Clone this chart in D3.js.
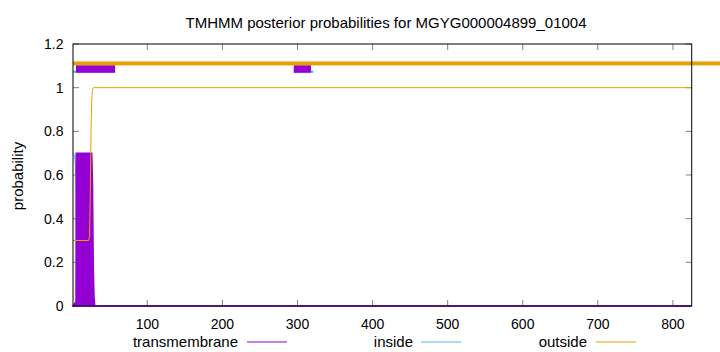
<!DOCTYPE html>
<html>
<head>
<meta charset="utf-8">
<script src="https://cdn.jsdelivr.net/npm/d3@7"></script>
<style>
  body { margin: 0; background: #fff; }
  svg text { font-family: "Liberation Sans", Arial, sans-serif; }
</style>
</head>
<body>
<svg id="chart" width="720" height="352"></svg>
<script>
// posterior curves (residue, probability)
const tmPos   = [1, 5, 5.3, 26, 27, 28, 29, 30, 825];
const tmProb  = [0, 0.02, 0.70, 0.70, 0.55, 0.18, 0.04, 0, 0];
const inPos   = [1, 3, 4, 5, 6, 7, 825];
const inProb  = [0.70, 0.69, 0.66, 0.55, 0.10, 0, 0];
const outPos  = [1, 22, 23, 24, 25, 26, 27, 28, 825];
const outProb = [0.30, 0.30, 0.32, 0.50, 0.80, 0.95, 0.99, 1.0, 1.0];

// predicted topology bars along the top
const outBars = [[1, 865]];
const tmBars  = [[5, 57], [295, 318]];
const inBars  = [[1, 5], [318, 321]];

const xTicks = [100, 200, 300, 400, 500, 600, 700, 800];
const yTicks = [0, 0.2, 0.4, 0.6, 0.8, 1, 1.2];

const colTM = "#9400d3", colIn = "#56b4e9", colOut = "#e69f00";

const svg = d3.select("#chart");
const pLeft = 73, pRight = 691.7, pTop = 44, pBottom = 306;

const x = d3.scaleLinear().domain([1, 825]).range([pLeft, pRight]);
const y = d3.scaleLinear().domain([0, 1.2]).range([pBottom, pTop]);

const zip = (a, b) => a.map((v, i) => [v, b[i]]);

// tick marks (mirrored on all sides, pointing inward)
const g = svg.append("g");
xTicks.forEach(t => {
  g.append("line").attr("x1", x(t)).attr("x2", x(t)).attr("y1", pBottom).attr("y2", pBottom - 6)
    .attr("stroke", "#000").attr("stroke-width", 0.5);
  g.append("line").attr("x1", x(t)).attr("x2", x(t)).attr("y1", pTop).attr("y2", pTop + 6)
    .attr("stroke", "#000").attr("stroke-width", 0.5);
  g.append("text").attr("x", x(t)).attr("y", pBottom + 22.5).attr("text-anchor", "middle")
    .attr("font-size", 14).text(t);
});
yTicks.forEach(t => {
  g.append("line").attr("x1", pLeft).attr("x2", pLeft + 6).attr("y1", y(t)).attr("y2", y(t))
    .attr("stroke", "#000").attr("stroke-width", 0.5);
  g.append("line").attr("x1", pRight).attr("x2", pRight - 6).attr("y1", y(t)).attr("y2", y(t))
    .attr("stroke", "#000").attr("stroke-width", 0.5);
  g.append("text").attr("x", pLeft - 9.5).attr("y", y(t) + 5).attr("text-anchor", "end")
    .attr("font-size", 14).text(t);
});

const line = d3.line().x(d => x(d[0])).y(d => y(d[1]));
svg.append("path").datum(zip(inPos, inProb)).attr("d", line)
  .attr("fill", "none").attr("stroke", colIn).attr("stroke-width", 1);

// transmembrane filled
const area = d3.area().x(d => x(d[0])).y0(y(0)).y1(d => y(d[1]));
svg.append("path").datum(zip(tmPos, tmProb)).attr("d", area)
  .attr("fill", colTM).attr("stroke", colTM).attr("stroke-width", 1.5);

svg.append("path").datum(zip(outPos, outProb)).attr("d", line)
  .attr("fill", "none").attr("stroke", colOut).attr("stroke-width", 1);

// topology bars
svg.selectAll(".tm").data(tmBars).join("rect")
  .attr("x", d => x(d[0])).attr("width", d => x(d[1]) - x(d[0]))
  .attr("y", y(1.103)).attr("height", y(1.068) - y(1.103)).attr("fill", colTM);
svg.selectAll(".inb").data(inBars).join("rect")
  .attr("x", d => x(d[0])).attr("width", d => x(d[1]) - x(d[0]))
  .attr("y", y(1.078)).attr("height", y(1.068) - y(1.078)).attr("fill", colIn);
svg.selectAll(".outb").data(outBars).join("rect")
  .attr("x", d => x(d[0])).attr("width", d => x(d[1]) - x(d[0]))
  .attr("y", y(1.12)).attr("height", y(1.102) - y(1.12)).attr("fill", colOut);

// frame
svg.append("rect").attr("x", pLeft).attr("y", pTop).attr("width", pRight - pLeft).attr("height", pBottom - pTop)
  .attr("fill", "none").attr("stroke", "#000").attr("stroke-width", 1);

// title and axis label
svg.append("text").attr("x", 386).attr("y", 28).attr("text-anchor", "middle").attr("font-size", 15)
  .text("TMHMM posterior probabilities for MGYG000004899_01004");
svg.append("text").attr("transform", "translate(23,176) rotate(-90)").attr("text-anchor", "middle")
  .attr("font-size", 15).text("probability");

// legend
const legend = [["transmembrane", colTM, 238, 247], ["inside", colIn, 413, 421], ["outside", colOut, 587, 596]];
legend.forEach(([name, c, tx, lx]) => {
  svg.append("text").attr("x", tx).attr("y", 347).attr("text-anchor", "end").attr("font-size", 15).text(name);
  svg.append("line").attr("x1", lx).attr("x2", lx + 40).attr("y1", 342).attr("y2", 342)
    .attr("stroke", c).attr("stroke-width", 1);
});
</script>
</body>
</html>
